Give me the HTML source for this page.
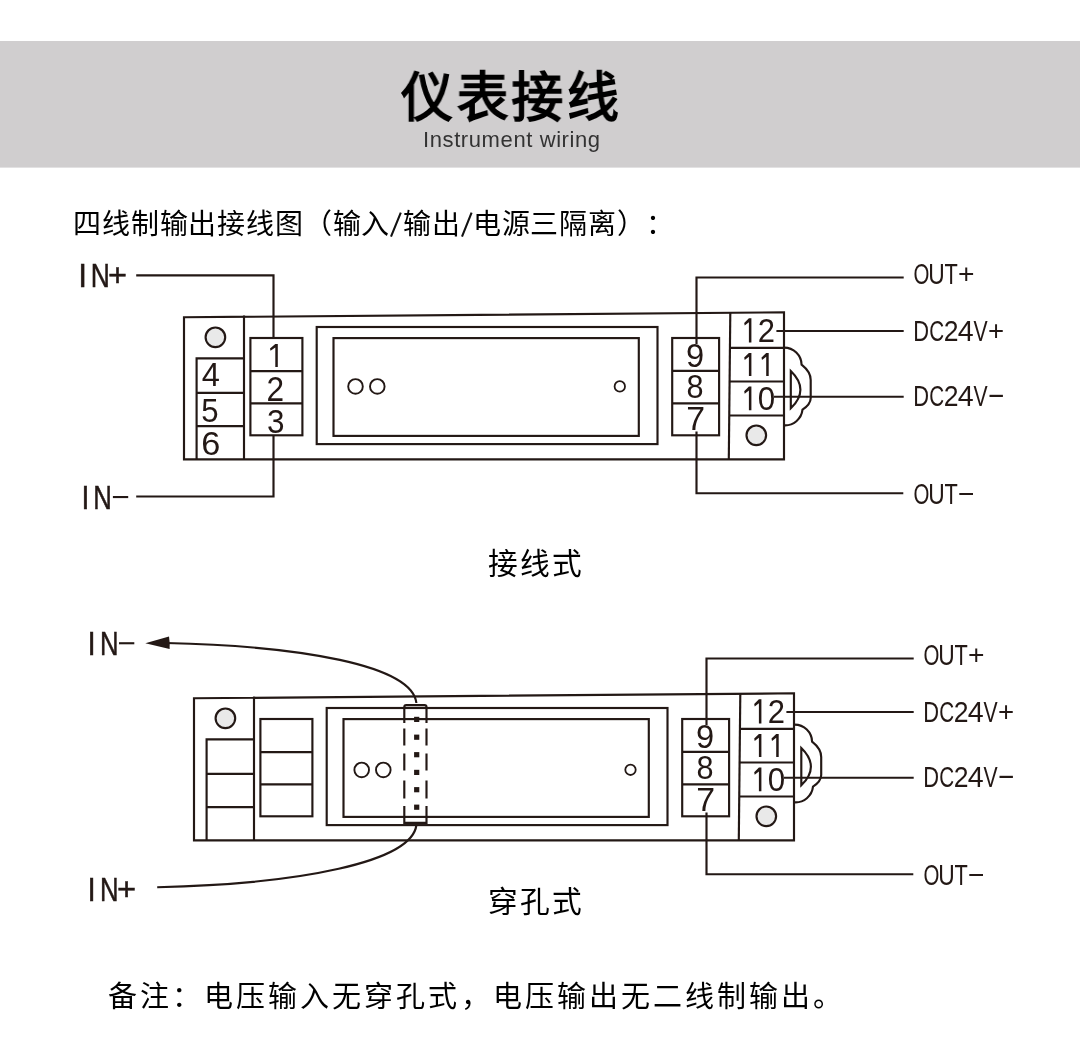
<!DOCTYPE html>
<html lang="zh-CN"><head><meta charset="utf-8">
<style>
html,body{margin:0;padding:0;background:#fff;}
body{width:1080px;height:1040px;position:relative;overflow:hidden;font-family:"Liberation Sans",sans-serif;}
.band{position:absolute;left:0;top:41px;width:1080px;height:126px;background:#d0cecf;}
.t{position:absolute;white-space:nowrap;line-height:1;text-spacing-trim:space-all;will-change:transform;}
svg{position:absolute;left:0;top:0;}
.sp{display:inline-block;width:12.3px;height:1px;}
</style></head><body>

<svg width="1080" height="200" style="position:absolute;left:0;top:0"><rect x="0" y="41" width="1080" height="126.6" fill="#d0cecf"/></svg>
<div class="t" id="title" style="left:401px;top:70.5px;font-size:54px;font-weight:bold;letter-spacing:3.7px;transform:scaleX(0.96);transform-origin:0 0;color:#000;">仪表接线</div>
<div class="t" id="sub" style="left:423px;top:129px;font-size:22px;letter-spacing:0.6px;color:#333;">Instrument wiring</div>
<div class="t" id="head" style="left:73px;top:210.5px;font-size:28px;letter-spacing:0.85px;color:#000;">四线制输出接线图（输入<span class="sp"></span>输出<span class="sp"></span>电源三隔离）：</div>
<div class="t" id="cap1" style="left:488px;top:549px;font-size:29.7px;letter-spacing:2.1px;color:#000;">接线式</div>
<div class="t" id="cap2" style="left:488px;top:887px;font-size:29.7px;letter-spacing:2.1px;color:#000;">穿孔式</div>
<div class="t" id="note" style="left:108px;top:983px;font-size:29px;letter-spacing:3.05px;color:#000;">备注：电压输入无穿孔式，电压输出无二线制输出。</div>

<svg width="1080" height="1040" viewBox="0 0 1080 1040">
<g fill="none" stroke="#231815" stroke-width="2.15">
<!-- ===== Diagram 1 ===== -->
<path d="M184,317.3 L784,312.3 V459.3 H184 Z"/>
<path d="M244,315.5 V459.3"/>
<path d="M730.3,312.7 L728.8,459.3"/>
<path d="M196.6,459.3 V358.3 H244 M196.6,392.8 H244 M196.6,426.1 H244"/>
<rect x="250.4" y="338" width="52" height="97.3"/>
<path d="M250.4,371.1 H302.4 M250.4,403.4 H302.4"/>
<rect x="316.7" y="327" width="340.8" height="117.1"/>
<rect x="333.5" y="338.1" width="305.3" height="97.8"/>
<circle cx="355.5" cy="386.4" r="7.3" stroke-width="1.9"/>
<circle cx="377.3" cy="386.4" r="7.3" stroke-width="1.9"/>
<circle cx="619.8" cy="386.4" r="5.2" stroke-width="1.8"/>
<rect x="672.2" y="338" width="46.9" height="97.3"/>
<path d="M672.2,370.8 H719.1 M672.2,403.4 H719.1"/>
<path d="M729.5,347.9 H784 M729.3,381.5 H784 M729,415.5 H784"/>
<circle cx="215.4" cy="337.3" r="9.8" fill="#e9e9e9"/>
<circle cx="756.3" cy="435.3" r="9.8" fill="#e9e9e9"/>
<path d="M784,347.6 A17.5,17.5 0 0 1 801.6,364.7 C807,369 810.7,374 810.7,380 V398 C810.7,403 808,406 802.5,409.7 A17.5,17.5 0 0 1 784,425.3"/>
<path d="M790.8,371 V408.3 Q810,389.6 790.8,371 Z"/>
<!-- wires -->
<path d="M136.2,275.4 H273.5 V338"/>
<path d="M136.2,496.5 H273.5 V435.3"/>
<path d="M903.7,277.5 H696.5 V344"/>
<path d="M903.3,493.2 H696.5 V431.5"/>
<path d="M776.4,331 H903.7"/>
<path d="M774,396.7 H903.7"/>

<!-- ===== Diagram 2 ===== -->
<g transform="translate(10,381)">
<path d="M184,317.3 L784,312.3 V459.3 H184 Z"/>
<path d="M244,315.5 V459.3"/>
<path d="M730.3,312.7 L728.8,459.3"/>
<path d="M196.6,459.3 V358.3 H244 M196.6,392.8 H244 M196.6,426.1 H244"/>
<rect x="250.4" y="338" width="52" height="97.3"/>
<path d="M250.4,371.1 H302.4 M250.4,403.4 H302.4"/>
<rect x="316.7" y="327" width="340.8" height="117.1"/>
<rect x="333.5" y="338.1" width="305.3" height="97.8"/>
<rect x="672.2" y="338" width="46.9" height="97.3"/>
<path d="M672.2,370.8 H719.1 M672.2,403.4 H719.1"/>
<path d="M729.5,347.9 H784 M729.3,381.5 H784 M729,415.5 H784"/>
<circle cx="215.4" cy="337.3" r="9.8" fill="#e9e9e9"/>
<circle cx="756.3" cy="435.3" r="9.8" fill="#e9e9e9"/>
<path d="M903.7,277.5 H696.5 V344"/>
<path d="M903.3,493.2 H696.5 V431.5"/>
<path d="M776.4,331 H903.7"/>
<path d="M774,396.7 H903.7"/>
</g>
<g transform="translate(10.5,377)">
<path d="M784,347.6 A17.5,17.5 0 0 1 801.6,364.7 C807,369 810.7,374 810.7,380 V398 C810.7,403 808,406 802.5,409.7 A17.5,17.5 0 0 1 784,425.3"/>
<path d="M790.8,371 V408.3 Q810,389.6 790.8,371 Z"/>
</g>
<circle cx="361.7" cy="769.9" r="7.3" stroke-width="1.9"/>
<circle cx="383.3" cy="769.9" r="7.3" stroke-width="1.9"/>
<circle cx="630.5" cy="769.8" r="5.2" stroke-width="1.8"/>
<!-- through-hole -->
<path d="M404.3,722.9 V707.1 Q404.3,705.1 406.3,705.1 H424.5 Q426.5,705.1 426.5,707.1 V722.9"/>
<path d="M404.3,805.9 V822.8 H426.5 V805.9"/>
<path d="M404.3,728.5 V745.6 M404.3,753.4 V770.5 M404.3,780.6 V798.5 M426.5,728.5 V745.6 M426.5,753.4 V770.5 M426.5,780.6 V798.5"/>
<path d="M166,643 C300,646 412,665 416.4,703"/>
<path d="M416.4,825 C412,862 300,884 157.2,887.2"/>
</g>
<g fill="#231815">
<rect x="414.1" y="716.8" width="5.2" height="5.2"/>
<rect x="414.1" y="734.6" width="5.2" height="5.2"/>
<rect x="414.1" y="752.1" width="5.2" height="5.2"/>
<rect x="414.1" y="769.8" width="5.2" height="5.2"/>
<rect x="414.1" y="787.1" width="5.2" height="5.2"/>
<rect x="414.1" y="804.6" width="5.2" height="5.2"/>
<path d="M145.3,643.3 L169,636.6 Q170,642.7 169.6,648.9 Z"/>
</g>
<path d="M391,236.6 L400.8,212.6 M462,236.6 L471.6,212.6" stroke="#111" stroke-width="2.1"/>
<!-- labels -->
<g id="labels" fill="#231815" stroke="#231815" stroke-width="0" font-family="Liberation Sans" font-size="100">
<g stroke-width="0.45">
<text vector-effect="non-scaling-stroke" transform="matrix(0.3158,0,0,0.3377,78.16,286.90)">I</text>
<text vector-effect="non-scaling-stroke" transform="matrix(0.2643,0,0,0.3377,90.79,286.90)">N</text>
<text vector-effect="non-scaling-stroke" transform="matrix(0.3258,0,0,0.3163,107.97,285.55)">+</text>
<text vector-effect="non-scaling-stroke" transform="matrix(0.2842,0,0,0.3377,81.54,508.90)">I</text>
<text vector-effect="non-scaling-stroke" transform="matrix(0.2571,0,0,0.3377,93.14,508.90)">N</text>
<rect stroke="none" x="112.90" y="496.00" width="15.30" height="2.10"/>
<text vector-effect="non-scaling-stroke" transform="matrix(0.2947,0,0,0.3348,87.45,654.90)">I</text>
<text vector-effect="non-scaling-stroke" transform="matrix(0.2571,0,0,0.3348,100.04,654.90)">N</text>
<rect stroke="none" x="119.00" y="642.20" width="15.30" height="2.10"/>
<text vector-effect="non-scaling-stroke" transform="matrix(0.2947,0,0,0.3348,87.45,900.90)">I</text>
<text vector-effect="non-scaling-stroke" transform="matrix(0.2571,0,0,0.3348,100.04,900.90)">N</text>
<text vector-effect="non-scaling-stroke" transform="matrix(0.3278,0,0,0.3122,117.06,899.51)">+</text>
</g>
<path d="M275.30,343.90 L277.80,343.90 L277.80,367.00 L275.30,367.00 L275.30,347.60 L270.50,350.83 L270.00,348.52 Z"/>
<text vector-effect="non-scaling-stroke" transform="matrix(0.3165,0,0,0.3429,266.62,400.50)">2</text>
<text vector-effect="non-scaling-stroke" transform="matrix(0.3149,0,0,0.3310,266.94,432.77)">3</text>
<text vector-effect="non-scaling-stroke" transform="matrix(0.3260,0,0,0.3333,201.69,386.10)">4</text>
<text vector-effect="non-scaling-stroke" transform="matrix(0.3116,0,0,0.3357,201.25,422.36)">5</text>
<text vector-effect="non-scaling-stroke" transform="matrix(0.3435,0,0,0.3366,201.28,455.36)">6</text>
<text vector-effect="non-scaling-stroke" transform="matrix(0.2044,0,0,0.2915,913.38,284.41)">O</text>
<text vector-effect="non-scaling-stroke" transform="matrix(0.2281,0,0,0.2914,928.29,284.21)">U</text>
<text vector-effect="non-scaling-stroke" transform="matrix(0.2177,0,0,0.2928,944.46,284.30)">T</text>
<text vector-effect="non-scaling-stroke" transform="matrix(0.2825,0,0,0.2796,957.89,283.22)">+</text>
<text vector-effect="non-scaling-stroke" transform="matrix(0.2044,0,0,0.2915,923.38,665.41)">O</text>
<text vector-effect="non-scaling-stroke" transform="matrix(0.2281,0,0,0.2914,938.29,665.21)">U</text>
<text vector-effect="non-scaling-stroke" transform="matrix(0.2177,0,0,0.2928,954.46,665.30)">T</text>
<text vector-effect="non-scaling-stroke" transform="matrix(0.2825,0,0,0.2796,967.89,664.22)">+</text>
<text vector-effect="non-scaling-stroke" transform="matrix(0.2044,0,0,0.2915,913.38,504.41)">O</text>
<text vector-effect="non-scaling-stroke" transform="matrix(0.2281,0,0,0.2914,928.29,504.21)">U</text>
<text vector-effect="non-scaling-stroke" transform="matrix(0.2177,0,0,0.2928,944.46,504.30)">T</text>
<rect stroke="none" x="959.30" y="493.00" width="13.70" height="2.00"/>
<text vector-effect="non-scaling-stroke" transform="matrix(0.2044,0,0,0.2915,923.38,885.41)">O</text>
<text vector-effect="non-scaling-stroke" transform="matrix(0.2281,0,0,0.2914,938.29,885.21)">U</text>
<text vector-effect="non-scaling-stroke" transform="matrix(0.2177,0,0,0.2928,954.46,885.30)">T</text>
<rect stroke="none" x="969.30" y="874.00" width="13.70" height="2.00"/>
<text vector-effect="non-scaling-stroke" transform="matrix(0.2185,0,0,0.2957,913.15,341.40)">D</text>
<text vector-effect="non-scaling-stroke" transform="matrix(0.2063,0,0,0.2873,929.17,341.11)">C</text>
<text vector-effect="non-scaling-stroke" transform="matrix(0.2659,0,0,0.2914,943.67,341.40)">2</text>
<text vector-effect="non-scaling-stroke" transform="matrix(0.2860,0,0,0.2957,957.78,341.40)">4</text>
<text vector-effect="non-scaling-stroke" transform="matrix(0.2122,0,0,0.2957,973.59,341.40)">V</text>
<text vector-effect="non-scaling-stroke" transform="matrix(0.2763,0,0,0.2837,988.12,340.25)">+</text>
<text vector-effect="non-scaling-stroke" transform="matrix(0.2185,0,0,0.2957,923.15,722.40)">D</text>
<text vector-effect="non-scaling-stroke" transform="matrix(0.2063,0,0,0.2873,939.17,722.11)">C</text>
<text vector-effect="non-scaling-stroke" transform="matrix(0.2659,0,0,0.2914,953.67,722.40)">2</text>
<text vector-effect="non-scaling-stroke" transform="matrix(0.2860,0,0,0.2957,967.78,722.40)">4</text>
<text vector-effect="non-scaling-stroke" transform="matrix(0.2122,0,0,0.2957,983.59,722.40)">V</text>
<text vector-effect="non-scaling-stroke" transform="matrix(0.2763,0,0,0.2837,998.12,721.25)">+</text>
<text vector-effect="non-scaling-stroke" transform="matrix(0.2185,0,0,0.2957,913.15,406.40)">D</text>
<text vector-effect="non-scaling-stroke" transform="matrix(0.2063,0,0,0.2873,929.17,406.11)">C</text>
<text vector-effect="non-scaling-stroke" transform="matrix(0.2659,0,0,0.2914,943.67,406.40)">2</text>
<text vector-effect="non-scaling-stroke" transform="matrix(0.2860,0,0,0.2957,957.78,406.40)">4</text>
<text vector-effect="non-scaling-stroke" transform="matrix(0.2122,0,0,0.2957,973.59,406.40)">V</text>
<rect stroke="none" x="989.50" y="394.80" width="13.40" height="2.20"/>
<text vector-effect="non-scaling-stroke" transform="matrix(0.2185,0,0,0.2957,923.15,787.40)">D</text>
<text vector-effect="non-scaling-stroke" transform="matrix(0.2063,0,0,0.2873,939.17,787.11)">C</text>
<text vector-effect="non-scaling-stroke" transform="matrix(0.2659,0,0,0.2914,953.67,787.40)">2</text>
<text vector-effect="non-scaling-stroke" transform="matrix(0.2860,0,0,0.2957,967.78,787.40)">4</text>
<text vector-effect="non-scaling-stroke" transform="matrix(0.2122,0,0,0.2957,983.59,787.40)">V</text>
<rect stroke="none" x="999.50" y="775.80" width="13.40" height="2.20"/>
<text vector-effect="non-scaling-stroke" transform="matrix(0.3269,0,0,0.3324,686.03,366.97)">9</text>
<text vector-effect="non-scaling-stroke" transform="matrix(0.3064,0,0,0.3380,686.62,398.16)">8</text>
<text vector-effect="non-scaling-stroke" transform="matrix(0.3385,0,0,0.3275,686.31,429.80)">7</text>
<text vector-effect="non-scaling-stroke" transform="matrix(0.3269,0,0,0.3324,696.03,747.97)">9</text>
<text vector-effect="non-scaling-stroke" transform="matrix(0.3064,0,0,0.3380,696.62,779.16)">8</text>
<text vector-effect="non-scaling-stroke" transform="matrix(0.3385,0,0,0.3275,696.31,810.80)">7</text>
<path d="M748.90,318.30 L751.40,318.30 L751.40,342.40 L748.90,342.40 L748.90,322.16 L744.70,325.53 L744.20,323.12 Z"/>
<text vector-effect="non-scaling-stroke" transform="matrix(0.3099,0,0,0.3400,757.85,342.00)">2</text>
<path d="M758.90,699.30 L761.40,699.30 L761.40,723.40 L758.90,723.40 L758.90,703.16 L754.70,706.53 L754.20,704.12 Z"/>
<text vector-effect="non-scaling-stroke" transform="matrix(0.3099,0,0,0.3400,767.85,723.00)">2</text>
<path d="M748.90,353.00 L751.40,353.00 L751.40,376.00 L748.90,376.00 L748.90,356.68 L744.70,359.90 L744.20,357.60 Z"/>
<path d="M766.20,353.00 L768.70,353.00 L768.70,376.00 L766.20,376.00 L766.20,356.68 L762.00,359.90 L761.50,357.60 Z"/>
<path d="M758.90,734.00 L761.40,734.00 L761.40,757.00 L758.90,757.00 L758.90,737.68 L754.70,740.90 L754.20,738.60 Z"/>
<path d="M776.20,734.00 L778.70,734.00 L778.70,757.00 L776.20,757.00 L776.20,737.68 L772.00,740.90 L771.50,738.60 Z"/>
<path d="M748.90,386.60 L751.40,386.60 L751.40,410.20 L748.90,410.20 L748.90,390.38 L744.70,393.68 L744.20,391.32 Z"/>
<text vector-effect="non-scaling-stroke" transform="matrix(0.3137,0,0,0.3324,757.85,409.87)">0</text>
<path d="M758.90,767.60 L761.40,767.60 L761.40,791.20 L758.90,791.20 L758.90,771.38 L754.70,774.68 L754.20,772.32 Z"/>
<text vector-effect="non-scaling-stroke" transform="matrix(0.3137,0,0,0.3324,767.85,790.87)">0</text>
</g>
</svg>
</body></html>
